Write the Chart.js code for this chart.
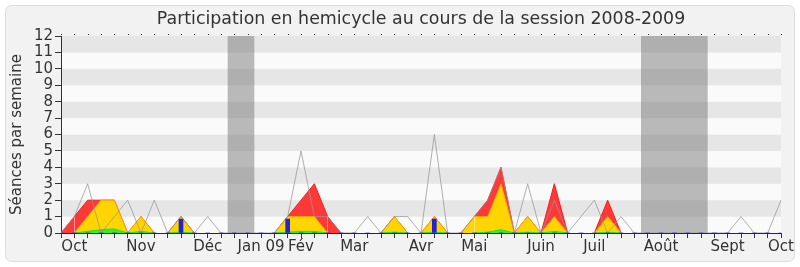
<!DOCTYPE html>
<html>
<head>
<meta charset="utf-8">
<script src="https://cdn.jsdelivr.net/npm/chart.js@4/dist/chart.umd.min.js"></script>
<style>
html,body{margin:0;padding:0;background:#fff}
#wrap{width:800px;height:267px}
</style>
</head>
<body>
<div id="wrap"><canvas id="myChart" width="800" height="267"></canvas></div>
<script>
// semaines du 29/09/2008 au 05/10/2009
weekLabels = []
for(i=0;i<55;i++){ weekLabels.push('') }
monthIndex = [1,6,11,15,18,22,27,31,36,40,45,50,54]
monthNames = ['Oct','Nov','Déc','Jan 09','Fév','Mar','Avr','Mai','Juin','Juil','Août','Sept','Oct']
for(i=0;i<monthIndex.length;i++){ weekLabels[monthIndex[i]] = monthNames[i] }

// vacances parlementaires (en index de semaine)
holidays = [[12.5,14.5],[43.5,48.5]]

greenValues = [0,0,0.1,0.2,0.25,0,0.1,0,0,0.05,0, 0,0,0,0,0,0,0.05,0.1,0.1,0, 0,0,0,0,0.05,0,0,0.05,0,0,
	0,0.05,0.2,0,0.05,0,0.1,0,0,0, 0.05,0,0,0,0,0,0,0,0,0, 0,0,0,0]
yellowValues = [0,0,0.9,1.8,1.75,0,0.9,0,0,0.95,0, 0,0,0,0,0,0,0.95,0.9,0.9,0, 0,0,0,0,0.95,0,0,0.95,0,0,
	1,0.95,2.8,0,0.95,0,0.9,0,0,0, 0.95,0,0,0,0,0,0,0,0,0, 0,0,0,0]
redValues = [0,1,1,0,0,0,0,0,0,0,0, 0,0,0,0,0,0,0,1,2,1, 0,0,0,0,0,0,0,0,0,0,
	0,1,1,0,0,0,2,0,0,0, 1,0,0,0,0,0,0,0,0,0, 0,0,0,0]
grayValues = [0,1,3,0,1,2,0,2,0,1,0, 1,0,0,0,0,0,1,5,1,1, 0,0,1,0,1,1,0,6,0,0,
	1,2,4,0,3,0,2,0,1,2, 0,1,0,0,0,0,0,0,0,0, 1,0,0,2]
blueValues = [0,0,0,0,0,0,0,0,0,0.85,0, 0,0,0,0,0,0,0.85,0,0,0, 0,0,0,0,0,0,0,0.85,0,0,
	0,0,0,0,0,0,0,0,0,0, 0,0,0,0,0,0,0,0,0,0, 0,0,0,0]

chartTitle = 'Participation en hemicycle au cours de la session 2008-2009'
yTitle = 'Séances par semaine'
fontName = 'DejaVu Sans'

// hauteur cumulée, pour ne pas tracer le bord le long de zéro
greenTop = greenValues.slice()
yellowTop = []
redTop = []
for(i=0;i<greenValues.length;i++){
	yellowTop.push(greenTop[i]+yellowValues[i])
	redTop.push(yellowTop[i]+redValues[i])
}
function hideZero(top){
	return function(c){
		if(top[c.p0DataIndex]==0 && top[c.p1DataIndex]==0){ return 'rgba(0,0,0,0)' }
		return undefined
	}
}

const backgroundPlugin = {
	id: 'backgroundPlugin',
	beforeDraw(chart){
		const ctx = chart.ctx
		const area = chart.chartArea
		const xs = chart.scales.x
		const ys = chart.scales.y
		ctx.save()
		ctx.fillStyle = '#ffffff'
		ctx.fillRect(0,0,chart.width,chart.height)
		ctx.beginPath()
		ctx.roundRect(5.5,5.5,chart.width-11,chart.height-11,6)
		ctx.fillStyle = '#f2f2f2'
		ctx.fill()
		ctx.strokeStyle = '#dddddd'
		ctx.lineWidth = 1
		ctx.stroke()
		// bandes horizontales
		for(v=0;v<12;v++){
			y1 = ys.getPixelForValue(v+1)
			y0 = ys.getPixelForValue(v)
			ctx.fillStyle = (v%2==1) ? '#e6e6e6' : '#fafafa'
			ctx.fillRect(area.left,y1,area.right-area.left,y0-y1)
		}
		// vacances
		ctx.fillStyle = 'rgba(120,120,120,0.5)'
		for(h=0;h<holidays.length;h++){
			xa = xs.getPixelForValue(holidays[h][0])
			xb = xs.getPixelForValue(holidays[h][1])
			ctx.fillRect(xa,area.top,xb-xa,area.bottom-area.top)
		}
		// petits traits en haut
		ctx.fillStyle = '#333333'
		for(i=0;i<weekLabels.length;i++){
			ctx.fillRect(Math.round(xs.getPixelForValue(i)),area.top-2,1,1)
		}
		// titre
		ctx.fillStyle = '#333333'
		ctx.font = '17.4px "' + fontName + '"'
		ctx.textAlign = 'center'
		ctx.textBaseline = 'middle'
		ctx.fillText(chartTitle,(area.left+area.right)/2,19)
		ctx.restore()
	}
}

canvas = document.getElementById('myChart')
const myNewChart = new Chart(canvas, {
	type: 'line',
	data: {
		labels: weekLabels,
		datasets: [
			{
				type: 'bar',
				label: 'présence',
				data: blueValues,
				backgroundColor: '#2323dd',
				barThickness: 4,
				stack: 'bar'
			},
			{
				label: 'séances',
				data: grayValues,
				borderColor: 'rgba(150,150,150,0.75)',
				borderWidth: 1,
				pointRadius: 0,
				fill: false,
				stack: 'gray'
			},
			{
				label: 'vert',
				data: greenValues,
				borderColor: '#22dd22',
				backgroundColor: '#33f022',
				borderWidth: 1,
				pointRadius: 0,
				fill: 'origin',
				stack: 'area',
				segment: { borderColor: hideZero(greenTop) }
			},
			{
				label: 'jaune',
				data: yellowValues,
				borderColor: '#ffa000',
				backgroundColor: '#ffd500',
				borderWidth: 1,
				pointRadius: 0,
				fill: '-1',
				stack: 'area',
				segment: { borderColor: hideZero(yellowTop) }
			},
			{
				label: 'rouge',
				data: redValues,
				borderColor: '#ff1a1a',
				backgroundColor: '#ff3838',
				borderWidth: 1,
				pointRadius: 0,
				fill: '-1',
				stack: 'area',
				segment: { borderColor: hideZero(redTop) }
			}
		]
	},
	options: {
		responsive: false,
		animation: false,
		layout: { padding: { left: 8, right: 19, top: 36, bottom: 0 } },
		scales: {
			x: {
				z: 1,
				offset: false,
				grid: { offset: false, drawOnChartArea: false, drawTicks: true, tickLength: 5, color: '#333333' },
				border: { color: '#3d1f1f' },
				ticks: { autoSkip: false, maxRotation: 0, minRotation: 0, padding: 0, color: '#333333', font: { family: fontName, size: 15 } },
				afterFit: function(scale){ scale.height = 34 }
			},
			y: {
				z: 1,
				stacked: true,
				min: 0,
				max: 12,
				grid: { drawOnChartArea: false, drawTicks: true, tickLength: 6, color: '#333333' },
				border: { color: '#333333' },
				ticks: { stepSize: 1, autoSkip: false, padding: 2, color: '#333333', font: { family: fontName, size: 15 } },
				title: { display: true, text: yTitle, color: '#333333', padding: 0, font: { family: fontName, size: 15 } },
				afterFit: function(scale){ scale.width = 53 }
			}
		},
		plugins: {
			legend: { display: false },
			tooltip: { enabled: false },
			title: { display: false }
		}
	},
	plugins: [backgroundPlugin]
})
</script>
</body>
</html>
